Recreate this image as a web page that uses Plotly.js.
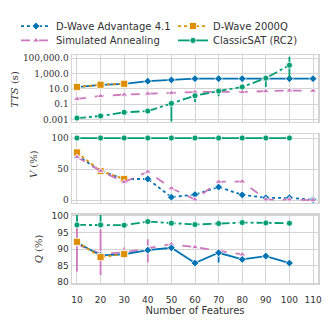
<!DOCTYPE html>
<html>
<head>
<meta charset="utf-8">
<script src="https://cdn.plot.ly/plotly-3.0.1.min.js"></script>
<style>
  html, body { margin: 0; padding: 0; background: #fff; }
  #chart { width: 330px; height: 326px; }
</style>
</head>
<body>
<div id="chart"></div>
<script>
// Number of features on the x axis
const features = [10, 20, 30, 40, 50, 60, 70, 80, 90, 100, 110];
const featuresSAT = [10, 20, 30, 40, 50, 60, 70, 80, 90, 100];
const features2000 = [10, 20, 30];
const featuresSA_Q = [10, 20, 30, 40, 50, 60, 70, 80];

// TTS (s), log scale
const ttsAdv = [17, 34, 46, 100, 145, 215, 215, 215, 215, 215, 215];
const tts2000 = [18, 35, 46];
const ttsSA = [0.5, 1.2, 1.8, 2.4, 2.9, 3.9, 4.2, 3.9, 5.1, 6.2, 5.6];
const ttsSAT = [0.0016, 0.003, 0.009, 0.013, 0.13, 1.3, 5.2, 18, 250, 12000];
const ttsSATHi = [0.0016, 0.003, 0.009, 0.013, 0.3, 2.5, 10, 18, 250, 150000];
const ttsSATLo = [0.0016, 0.003, 0.009, 0.013, 0.0004, 0.2, 1.1, 18, 18, 200];

// V (%)
const vAdv = [72, 47, 34, 34, 4.7, 8.9, 21, 8.4, 3.7, 3.7, 0.5];
const v2000 = [76.8, 46.8, 34];
const vSA = [69.5, 47, 29, 45.8, 19, 1, 29.4, 30, 1, 1, 0];
const vSAT = [100, 100, 100, 100, 100, 100, 100, 100, 100, 100];

// Q (%)
const qAdv = [92, 88.1, 88.4, 89.7, 90.4, 85.8, 88.9, 86.9, 87.9, 85.8];
const qAdvHi = [92, 88.1, 88.4, 89.7, 90.4, 85.8, 88.9, 86.9, 87.9, 85.8];
const qAdvLo = [92, 88.1, 88.4, 89.7, 90.4, 85.8, 86, 86.9, 87.9, 85.8];
const q2000 = [92.2, 87.6, 88.5];
const qSA = [91.5, 88.6, 89, 90.2, 91.5, 90.6, 89.5, 88.4];
const qSAHi = [99, 96, 90.5, 93, 91.5, 90.6, 89.5, 88.4];
const qSALo = [83.3, 82.2, 87.3, 86, 91.5, 90.6, 89.5, 88.4];
const qSAT = [97.3, 97.3, 97.2, 98.3, 97.8, 97.4, 97.7, 98.0, 97.9, 97.8];
const qSATHi = [101, 101, 97.2, 98.3, 97.8, 97.4, 97.7, 98.0, 97.9, 97.8];

const names = ['D-Wave Advantage 4.1', 'D-Wave 2000Q', 'Simulated Annealing', 'ClassicSAT (RC2)'];
const colors = ['#0173b2', '#de8f05', '#cc78bc', '#029e73'];
const symbols = ['diamond', 'square', 'triangle-up', 'circle'];

function errs(vals, hi, lo, color) {
    return {
        type: 'data', symmetric: false,
        array: vals.map((v, i) => hi[i] - v),
        arrayminus: vals.map((v, i) => v - lo[i]),
        color: color, thickness: 1.8, width: 0
    };
}

function series(k, x, y, xa, ya, dash, legend, err) {
    const t = {
        x: x, y: y, xaxis: xa, yaxis: ya,
        name: names[k], showlegend: !!legend,
        mode: 'lines+markers',
        line: {color: colors[k], width: 1.8, dash: dash},
        marker: {symbol: symbols[k], color: colors[k], size: k === 1 ? 7 : 6,
                 line: {color: '#ffffff', width: 0.8}},
        hoverinfo: 'none'
    };
    if (legend) t.legend = legend;
    if (err) t.error_y = err;
    return t;
}

const traces = [
    // legend entries come from the V panel traces (two rows = two legends)
    series(0, features, vAdv, 'x2', 'y2', 'dot', 'legend'),
    series(1, features2000, v2000, 'x2', 'y2', 'dot', 'legend'),
    series(2, features, vSA, 'x2', 'y2', 'dash', 'legend2'),
    series(3, featuresSAT, vSAT, 'x2', 'y2', 'solid', 'legend2'),
    // TTS panel
    series(0, features, ttsAdv, 'x', 'y', 'solid'),
    series(1, features2000, tts2000, 'x', 'y', 'dot'),
    series(2, features, ttsSA, 'x', 'y', 'dash'),
    series(3, featuresSAT, ttsSAT, 'x', 'y', 'dashdot', null, errs(ttsSAT, ttsSATHi, ttsSATLo, colors[3])),
    // Q panel
    series(2, featuresSA_Q, qSA, 'x3', 'y3', 'dash', null, errs(qSA, qSAHi, qSALo, colors[2])),
    series(3, featuresSAT, qSAT, 'x3', 'y3', 'dashdot', null, errs(qSAT, qSATHi, qSAT, colors[3])),
    series(0, featuresSAT, qAdv, 'x3', 'y3', 'solid', null, errs(qAdv, qAdvHi, qAdvLo, colors[0])),
    series(1, features2000, q2000, 'x3', 'y3', 'dot')
];

const grid = '#d4d4d4';
const tickFont = {family: 'DejaVu Serif, serif', size: 9, color: '#333'};
const xBase = {
    range: [7.9, 112.1], tickvals: features, showgrid: true, gridcolor: grid, gridwidth: 1,
    showline: true, mirror: true, linecolor: grid, linewidth: 1.5, zeroline: false, ticks: ''
};
const yBase = {
    showgrid: true, gridcolor: grid, gridwidth: 1, showline: true, mirror: true,
    linecolor: grid, linewidth: 1.5, zeroline: false, ticks: '', tickfont: tickFont
};
// x just left of the plot area so the legend may use the full figure width
const legBase = {
    orientation: 'h', x: -0.004, xanchor: 'left', yanchor: 'middle',
    entrywidth: 112, entrywidthmode: 'pixels', traceorder: 'normal',
    font: {size: 10, color: '#333'}, itemwidth: 30, bgcolor: 'rgba(0,0,0,0)'
};
const titleFont = {family: 'DejaVu Serif, serif', size: 10, color: '#333'};
function yTitle(text, x, y) {
    return {text: text, xref: 'paper', yref: 'paper', x: x, y: y, textangle: -90,
            showarrow: false, xanchor: 'center', yanchor: 'middle', font: titleFont};
}

const layout = {
    width: 330, height: 326,
    margin: {l: 72, r: 12, t: 47, b: 43},
    paper_bgcolor: '#ffffff', plot_bgcolor: '#ffffff',
    font: {family: 'DejaVu Sans, sans-serif', size: 10, color: '#333'},
    showlegend: true,
    legend: Object.assign({}, legBase, {y: 1.127}),
    legend2: Object.assign({}, legBase, {y: 1.064}),
    xaxis: Object.assign({}, xBase, {anchor: 'y', matches: 'x3', showticklabels: false}),
    xaxis2: Object.assign({}, xBase, {anchor: 'y2', matches: 'x3', showticklabels: false}),
    xaxis3: Object.assign({}, xBase, {
        anchor: 'y3', showticklabels: true,
        tickfont: {family: 'DejaVu Sans, sans-serif', size: 9, color: '#333'},
        ticklabelstandoff: 8,
        title: {text: 'Number of Features', font: {size: 10, color: '#333'}, standoff: 1}
    }),
    yaxis: Object.assign({}, yBase, {
        domain: [0.708, 1], type: 'log', range: [-3.25, 5.41],
        tickvals: [0.001, 0.1, 10, 1000, 100000],
        ticktext: ['0.001', '0.1', '10.0', '1,000.0', '100,000.0']
    }),
    yaxis2: Object.assign({}, yBase, {
        domain: [0.352, 0.653], range: [-4.3, 106.3], tickvals: [0, 50, 100]
    }),
    yaxis3: Object.assign({}, yBase, {
        domain: [0, 0.30], range: [79.8, 100.4], tickvals: [80, 85, 90, 95, 100],
        tickfont: {family: 'DejaVu Sans, sans-serif', size: 9, color: '#333'}
    }),
    annotations: [
        yTitle('<i>TTS</i> (s)', -0.232, 0.852),
        yTitle('<i>V</i> (%)', -0.159, 0.521),
        yTitle('<i>Q</i> (%)', -0.138, 0.148)
    ]
};

Plotly.newPlot('chart', traces, layout, {displayModeBar: false, staticPlot: true});
</script>
</body>
</html>
